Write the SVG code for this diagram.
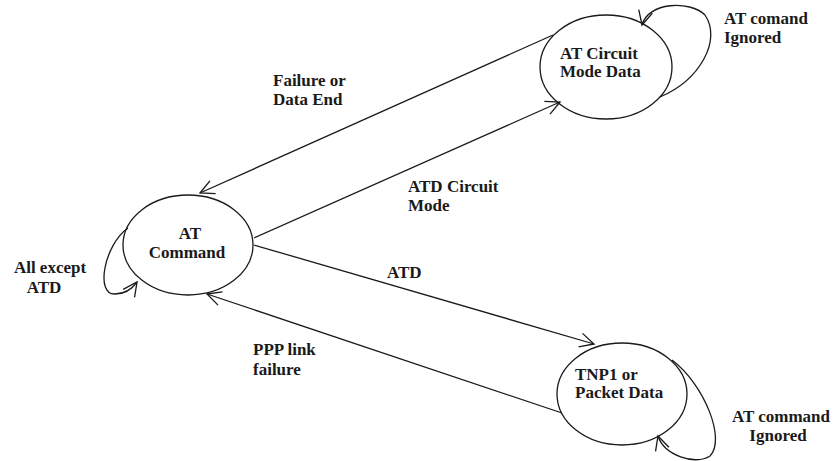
<svg xmlns="http://www.w3.org/2000/svg" width="838" height="461" viewBox="0 0 838 461">
<defs>
<style>
.node{fill:none;stroke:#1a1a1a;stroke-width:1.3}
.edge{fill:none;stroke:#1a1a1a;stroke-width:1.3;marker-end:url(#arr)}
text{font-family:"Liberation Serif","Times New Roman",serif;font-weight:bold;font-size:17px;fill:#1a1a1a}
</style>
<marker id="arr" markerUnits="userSpaceOnUse" markerWidth="20" markerHeight="20" viewBox="0 0 20 20" refX="17" refY="10" orient="auto">
<path d="M3,3 L17,10 L3,17" fill="none" stroke="#1a1a1a" stroke-width="1.3"/>
</marker>
</defs>
<rect width="838" height="461" fill="#ffffff"/>
<g id="connectors">
<path class="edge" d="M553,35 L200,193"/>
<path class="edge" d="M254,238 L560,102"/>
<path class="edge" d="M254,245 L594,344"/>
<path class="edge" d="M562,413 L207,294"/>
<path class="edge" d="M128,228 C104,245 95,295 115,294 C125,294 132,289 137,282"/>
<path class="edge" d="M660,97 C700,80 722,40 705,15 C690,0 648,2 642,25"/>
<path class="edge" d="M672,360 C705,385 726,440 710,456 C695,466 664,455 658,436"/>
</g>
<g id="at-command">
<ellipse class="node" cx="188" cy="245" rx="65" ry="50"/>
<text x="190" y="239" text-anchor="middle">AT</text>
<text x="187" y="258" text-anchor="middle">Command</text>
</g>
<g id="at-circuit">
<ellipse class="node" cx="606" cy="67" rx="66" ry="52"/>
<text x="560" y="59">AT Circuit</text>
<text x="560" y="77">Mode Data</text>
</g>
<g id="tnp1">
<ellipse class="node" cx="622" cy="394" rx="65" ry="51"/>
<text x="575" y="380">TNP1 or</text>
<text x="575" y="398">Packet Data</text>
</g>
<g id="labels">
<text x="50" y="273" text-anchor="middle">All except</text>
<text x="44" y="293" text-anchor="middle">ATD</text>
<text x="724" y="24">AT comand</text>
<text x="724" y="43">Ignored</text>
<text x="781" y="422" text-anchor="middle">AT command</text>
<text x="778" y="441" text-anchor="middle">Ignored</text>
<text x="273" y="86">Failure or</text>
<text x="273" y="105">Data End</text>
<text x="408" y="192">ATD Circuit</text>
<text x="408" y="211">Mode</text>
<text x="387" y="278">ATD</text>
<text x="253" y="355">PPP link</text>
<text x="253" y="375">failure</text>
</g>
</svg>
